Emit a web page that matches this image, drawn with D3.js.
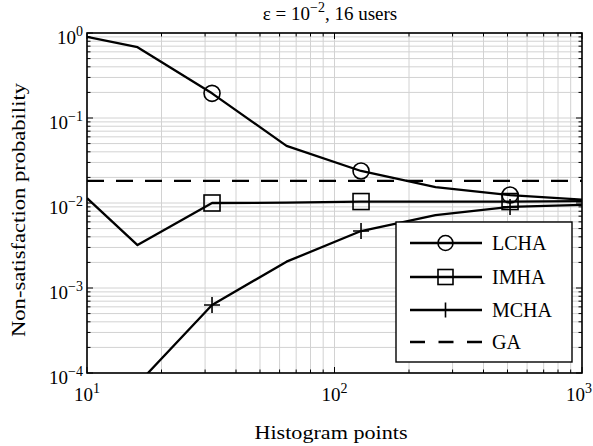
<!DOCTYPE html>
<html>
<head>
<meta charset="utf-8">
<script src="https://cdn.jsdelivr.net/npm/d3@7"></script>
<style>
  html, body { margin: 0; padding: 0; background: #fff; }
  svg { display: block; }
  text { font-family: "Liberation Serif", "Times New Roman", serif; fill: #000; }
</style>
</head>
<body>
<svg id="chart" width="593" height="446"></svg>
<script>
// Histogram sizes evaluated (x axis)
const histPoints = [10, 16, 32, 64, 128, 256, 512, 1024];

// Non-satisfaction probability for each algorithm
const lcha = [0.90, 0.68, 0.195, 0.047, 0.0238, 0.0154, 0.0124, 0.0109];
const imha = [0.0114, 0.0032, 0.0100, 0.0101, 0.0104, 0.0104, 0.0104, 0.0105];
const mcha = [null, 0.000074, 0.00063, 0.00204, 0.00468, 0.0072, 0.0090, 0.0095];
const gaLevel = 0.0182;

// Markers are placed on every other sample
const markerIndex = [2, 4, 6];

// Decade exponents for the tick labels
const xTickExps = [1, 2, 3];
const yTickExps = [0, -1, -2, -3, -4];

const seriesNames = ["LCHA", "IMHA", "MCHA", "GA"];
const titleMain = "ε = 10";
const titleExp = "−2";
const titleTail = ", 16 users";
const xLabel = "Histogram points";
const yLabel = "Non-satisfaction probability";

const svg = d3.select("#chart");
const W = 593;
const plotL = 87, plotR = 582, plotT = 33, plotB = 373;

const x = d3.scaleLog().domain([10, 1000]).range([plotL, plotR]);
const y = d3.scaleLog().domain([1e-4, 1]).range([plotB, plotT]);

const isDecade = v => Math.abs(Math.log10(v) - Math.round(Math.log10(v))) < 1e-9;
const xTicks = x.ticks();
const yTicks = y.ticks();

// Grid
const grid = svg.append("g").attr("stroke", "#d2d2d2").attr("stroke-width", 1);
xTicks.forEach(t => {
  grid.append("line").attr("x1", x(t)).attr("x2", x(t)).attr("y1", plotT).attr("y2", plotB);
});
yTicks.forEach(t => {
  grid.append("line").attr("x1", plotL).attr("x2", plotR).attr("y1", y(t)).attr("y2", y(t));
});

// Clip region for the data
svg.append("clipPath").attr("id", "plotClip")
  .append("rect").attr("x", plotL).attr("y", plotT).attr("width", plotR - plotL).attr("height", plotB - plotT);

const plot = svg.append("g").attr("clip-path", "url(#plotClip)");

const line = d3.line()
  .defined(d => d[1] != null)
  .x(d => x(d[0]))
  .y(d => y(d[1]));

const zip = vals => histPoints.map((h, i) => [h, vals[i]]);

[lcha, imha, mcha].forEach(vals => {
  plot.append("path")
    .attr("d", line(zip(vals)))
    .attr("fill", "none")
    .attr("stroke", "#000")
    .attr("stroke-width", 2.3)
    .attr("stroke-linejoin", "round");
});

// GA constant level
plot.append("line")
  .attr("x1", plotL).attr("x2", plotR)
  .attr("y1", y(gaLevel)).attr("y2", y(gaLevel))
  .attr("stroke", "#000").attr("stroke-width", 2.3)
  .attr("stroke-dasharray", "17,12");

// Marker shapes
function drawMarker(g, kind, cx, cy, s) {
  if (kind === "circle") {
    g.append("circle").attr("cx", cx).attr("cy", cy).attr("r", s / 2)
      .attr("fill", "none").attr("stroke", "#000").attr("stroke-width", 1.6);
  } else if (kind === "square") {
    g.append("rect").attr("x", cx - s / 2).attr("y", cy - s / 2).attr("width", s).attr("height", s)
      .attr("fill", "none").attr("stroke", "#000").attr("stroke-width", 1.6);
  } else if (kind === "plus") {
    g.append("path").attr("d", `M${cx - s / 2},${cy}H${cx + s / 2}M${cx},${cy - s / 2}V${cy + s / 2}`)
      .attr("fill", "none").attr("stroke", "#000").attr("stroke-width", 1.6);
  }
}

const markerKinds = ["circle", "square", "plus"];
[lcha, imha, mcha].forEach((vals, si) => {
  markerIndex.forEach(i => {
    if (vals[i] != null) drawMarker(plot, markerKinds[si], x(histPoints[i]), y(vals[i]), 16);
  });
});

// Tick marks on all four sides
const ticks = svg.append("g").attr("stroke", "#000").attr("stroke-width", 1);
xTicks.forEach(t => {
  const L = isDecade(t) ? 6 : 3.5;
  const px = x(t);
  ticks.append("line").attr("x1", px).attr("x2", px).attr("y1", plotB).attr("y2", plotB - L);
  ticks.append("line").attr("x1", px).attr("x2", px).attr("y1", plotT).attr("y2", plotT + L);
});
yTicks.forEach(t => {
  const L = isDecade(t) ? 6 : 3.5;
  const py = y(t);
  ticks.append("line").attr("x1", plotL).attr("x2", plotL + L).attr("y1", py).attr("y2", py);
  ticks.append("line").attr("x1", plotR).attr("x2", plotR - L).attr("y1", py).attr("y2", py);
});

// Frame
svg.append("rect")
  .attr("x", plotL).attr("y", plotT).attr("width", plotR - plotL).attr("height", plotB - plotT)
  .attr("fill", "none").attr("stroke", "#000").attr("stroke-width", 1.6);

// Tick labels: 10 with a raised exponent
function powerLabel(g, px, py, exp, anchor) {
  const t = g.append("text").attr("x", px).attr("y", py)
    .attr("text-anchor", anchor).attr("font-size", 19);
  t.append("tspan").text("10");
  t.append("tspan").attr("font-size", 14).attr("dy", -8)
    .text(exp < 0 ? "−" + Math.abs(exp) : String(exp));
  return t;
}

const labels = svg.append("g");
xTickExps.forEach(e => {
  const t = powerLabel(labels, x(Math.pow(10, e)), 401, e, "middle");
  // keep the last label inside the canvas
  const bb = t.node().getBBox();
  const overflow = bb.x + bb.width - (W - 1);
  if (overflow > 0) t.attr("x", x(Math.pow(10, e)) - overflow);
});
yTickExps.forEach(e => powerLabel(labels, 83, y(Math.pow(10, e)) + 11, e, "end"));

// Title
const title = svg.append("text").attr("x", 330).attr("y", 20)
  .attr("text-anchor", "middle").attr("font-size", 19);
title.append("tspan").text(titleMain);
title.append("tspan").attr("font-size", 14).attr("dy", -8).text(titleExp);
title.append("tspan").attr("dy", 8).text(titleTail);

// Axis titles
svg.append("text").attr("x", 331).attr("y", 439)
  .attr("text-anchor", "middle").attr("font-size", 19)
  .attr("textLength", 153).attr("lengthAdjust", "spacingAndGlyphs")
  .text(xLabel);

svg.append("text")
  .attr("transform", "translate(25,210) rotate(-90)")
  .attr("text-anchor", "middle").attr("font-size", 19)
  .attr("textLength", 254).attr("lengthAdjust", "spacingAndGlyphs")
  .text(yLabel);

// Legend
const legend = svg.append("g");
legend.append("rect")
  .attr("x", 396).attr("y", 222).attr("width", 176).attr("height", 140)
  .attr("fill", "#fff").attr("stroke", "#000").attr("stroke-width", 1.4);

const legendRows = [243, 277, 310, 342];
const legendKinds = ["circle", "square", "plus", "dash"];
seriesNames.forEach((name, i) => {
  const ry = legendRows[i];
  const ln = legend.append("line")
    .attr("x1", 410).attr("x2", 482).attr("y1", ry).attr("y2", ry)
    .attr("stroke", "#000").attr("stroke-width", 2.3);
  if (legendKinds[i] === "dash") ln.attr("stroke-dasharray", "15,13.5");
  else drawMarker(legend, legendKinds[i], 445.5, ry, 15);
  legend.append("text")
    .attr("x", 492).attr("y", ry + 7)
    .attr("font-size", 20)
    .text(name);
});
</script>
</body>
</html>
